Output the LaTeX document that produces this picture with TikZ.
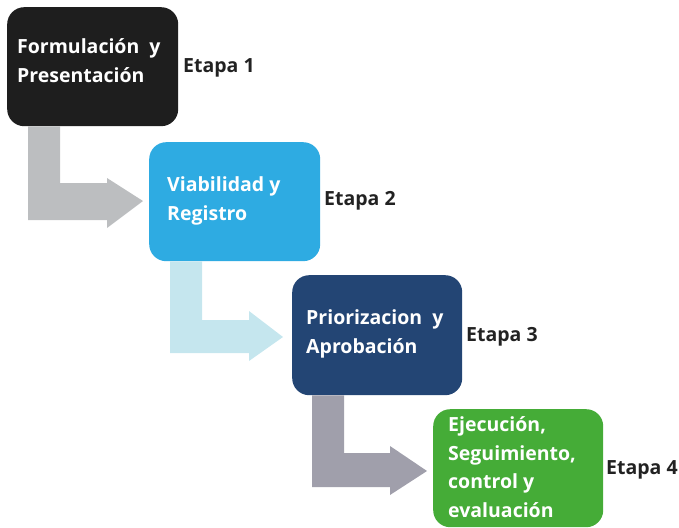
\documentclass[tikz,border=0pt]{standalone}
\usepackage{fontspec}
\setmainfont{Open Sans}
\usetikzlibrary{calc}
\definecolor{cbox1}{HTML}{1E1E1E}
\definecolor{cbox2}{HTML}{2EABE2}
\definecolor{cbox3}{HTML}{234574}
\definecolor{cbox4}{HTML}{45AC37}
\definecolor{carr1}{HTML}{BCBEC0}
\definecolor{carr2}{HTML}{C5E6EE}
\definecolor{carr3}{HTML}{A09FAB}
\definecolor{ctext}{HTML}{222222}
\tikzset{
  stagebox/.style={rounded corners=17pt, inner sep=0pt, minimum width=171pt, minimum height=119pt, anchor=north west},
  boxtext/.style={text=white, font=\fontsize{19.5}{28.5}\selectfont\bfseries, align=left, anchor=base west, inner sep=0pt},
  etapa/.style={text=ctext, font=\fontsize{19.5}{21}\selectfont\bfseries, anchor=base west, inner sep=0pt}
}
\begin{document}
\begin{tikzpicture}[x=1pt,y=-1pt]
\useasboundingbox (0,0) rectangle (679,527);
% boxes
\node[stagebox, fill=cbox1] (b1) at (7,7) {};
\node[stagebox, fill=cbox2] (b2) at (149,142) {};
\node[stagebox, fill=cbox3, minimum width=170pt, minimum height=120pt] (b3) at (292,275) {};
\node[stagebox, fill=cbox4, minimum width=170pt, minimum height=118pt] (b4) at (433,409) {};
% block arrows
\fill[carr1] ($(b1.south west)+(21,0)$) coordinate (a1s) -- ++(32,0) |- (107,183) -- (107,178) -- (143,201) -- (107,228) -- (107,220) -| (a1s) -- cycle;
\fill[carr2] ($(b2.south west)+(21,0)$) coordinate (a2s) -- ++(32,0) |- (249,320) -- (249,311) -- (283,337) -- (249,361) -- (249,353) -| (a2s) -- cycle;
\fill[carr3] ($(b3.south west)+(20,0)$) coordinate (a3s) -- ++(32,0) |- (390,453) -- (390,446) -- (427,471) -- (390,495) -- (390,487) -| (a3s) -- cycle;
% texts (anchored at the baseline of the last line)
\node[boxtext] (t1) at (17,82) {Formulación\ \ y\\Presentación};
\node[boxtext] (t2) at (167,220) {Viabilidad y\\Registro};
\node[boxtext] (t3) at (306,353) {Priorizacion\ \ y\\Aprobación};
\node[boxtext] (t4) at (448,517) {Ejecución,\\Seguimiento,\\control y\\evaluación};
\node[etapa] (e1) at (183,72) {Etapa 1};
\node[etapa] (e2) at (324,205) {Etapa 2};
\node[etapa] (e3) at (466,341) {Etapa 3};
\node[etapa] (e4) at (606,474) {Etapa 4};
\end{tikzpicture}
\end{document}
